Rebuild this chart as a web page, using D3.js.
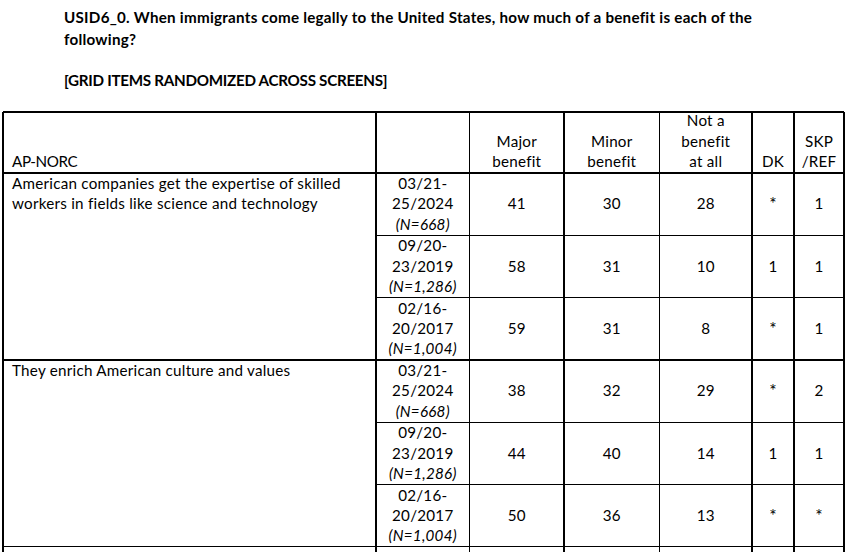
<!DOCTYPE html>
<html>
<head>
<meta charset="utf-8">
<script src="https://cdn.jsdelivr.net/npm/d3@7"></script>
<style>
  html, body { margin: 0; padding: 0; background: #fff; }
  svg { display: block; }
  text { font-family: Lato, "Open Sans", sans-serif; fill: #000; font-variant-ligatures: none; letter-spacing: 0.25px; }
</style>
</head>
<body>
<svg id="chart" width="848" height="552"></svg>
<script>
// ---- DATA ----
const titleLines = [
  "USID6_0. When immigrants come legally to the United States, how much of a benefit is each of the",
  "following?"
];
const note = "[GRID ITEMS RANDOMIZED ACROSS SCREENS]";
const source = "AP-NORC";
const columns = ["Major benefit", "Minor benefit", "Not a benefit at all", "DK", "SKP /REF"];
const columnHeaderLines = [["Major", "benefit"], ["Minor", "benefit"], ["Not a", "benefit", "at all"], ["DK"], ["SKP", "/REF"]];
const items = [
  ["American companies get the expertise of skilled", "workers in fields like science and technology"],
  ["They enrich American culture and values"]
];
const dateRanges = [["03/21-", "25/2024"], ["09/20-", "23/2019"], ["02/16-", "20/2017"]];
const sampleSizes = ["(N=668)", "(N=1,286)", "(N=1,004)"];
// values per item, per wave (2024, 2019, 2017)
const majorBenefit = [[41, 58, 59], [38, 44, 50]];
const minorBenefit = [[30, 31, 31], [32, 40, 36]];
const notABenefit  = [[28, 10, 8],  [29, 14, 13]];
const dontKnow     = [["*", 1, "*"], ["*", 1, "*"]];
const skipRefused  = [[1, 1, 1],    [2, 1, "*"]];

// ---- LAYOUT ----
const svg = d3.select("#chart");
const fontSize = 15.2;
const lineH = 20.3;

const colEdges = [3, 376, 469.5, 564, 659.5, 752, 794, 844];
const tableTop = 112, headerBottom = 173, rowH = 62.3;

const nWaves = dateRanges.length;
const rows = [];
items.forEach((it, i) => dateRanges.forEach((d, j) => rows.push({item: i, wave: j})));

const y = d3.scaleBand()
  .domain(d3.range(rows.length))
  .range([headerBottom, headerBottom + rows.length * rowH])
  .paddingInner(0).paddingOuter(0);

const valueCols = [majorBenefit, minorBenefit, notABenefit, dontKnow, skipRefused];

// title
const tg = svg.append("g");
tg.selectAll("text.title").data(titleLines).join("text")
  .attr("class", "title")
  .attr("x", 64)
  .attr("y", (d, i) => 23 + i * 21.5)
  .attr("font-size", fontSize)
  .attr("font-weight", "bold")
  .text(d => d);
tg.append("text")
  .attr("x", 64).attr("y", 86)
  .attr("font-size", fontSize)
  .attr("font-weight", "bold")
  .style("letter-spacing", "-0.28px")
  .text(note);

// grid lines
const grid = svg.append("g").attr("stroke", "#000").attr("stroke-width", 1.2).attr("shape-rendering", "crispEdges");
const bottomY = 552;
grid.selectAll("line.v").data(colEdges).join("line")
  .attr("x1", d => d).attr("x2", d => d)
  .attr("y1", tableTop).attr("y2", bottomY);
grid.append("line").attr("x1", colEdges[0]).attr("x2", colEdges[colEdges.length - 1]).attr("y1", tableTop).attr("y2", tableTop);
grid.append("line").attr("x1", colEdges[0]).attr("x2", colEdges[colEdges.length - 1]).attr("y1", headerBottom).attr("y2", headerBottom);
grid.selectAll("line.h").data(rows).join("line")
  .attr("x1", d => d.wave === nWaves - 1 ? colEdges[0] : colEdges[1])
  .attr("x2", colEdges[colEdges.length - 1])
  .attr("y1", (d, i) => y(i) + y.bandwidth())
  .attr("y2", (d, i) => y(i) + y.bandwidth());

// header text
const hb = headerBottom - 6;
svg.append("text").attr("x", 12).attr("y", hb).attr("font-size", fontSize)
  .style("letter-spacing", "-0.4px").text(source);
columnHeaderLines.forEach((lines, c) => {
  const cx = (colEdges[c + 2] + colEdges[c + 3]) / 2;
  svg.append("g").selectAll("text").data(lines).join("text")
    .attr("x", cx)
    .attr("y", (d, i) => hb - (lines.length - 1 - i) * lineH)
    .attr("text-anchor", "middle")
    .attr("font-size", fontSize)
    .text(d => d);
});

// body
const body = svg.append("g");
items.forEach((lines, i) => {
  const top = y(i * nWaves);
  body.append("g").selectAll("text").data(lines).join("text")
    .attr("x", 12)
    .attr("y", (d, k) => top + 16 + k * lineH)
    .attr("font-size", fontSize)
    .text(d => d);
});
rows.forEach((r, i) => {
  const top = y(i);
  const dcx = (colEdges[1] + colEdges[2]) / 2;
  const dl = dateRanges[r.wave];
  body.append("text").attr("x", dcx).attr("y", top + 16).attr("text-anchor", "middle").attr("font-size", fontSize).text(dl[0]);
  body.append("text").attr("x", dcx).attr("y", top + 16 + lineH).attr("text-anchor", "middle").attr("font-size", fontSize).text(dl[1]);
  body.append("text").attr("x", dcx).attr("y", top + 16 + 2 * lineH).attr("text-anchor", "middle").attr("font-size", fontSize).attr("font-style", "italic").text(sampleSizes[r.wave]);
  valueCols.forEach((arr, c) => {
    const cx = (colEdges[c + 2] + colEdges[c + 3]) / 2;
    const v = arr[r.item][r.wave];
    body.append("text")
      .attr("x", cx)
      .attr("y", top + 16 + lineH + (v === "*" ? 1 : 0))
      .attr("text-anchor", "middle")
      .attr("font-size", v === "*" ? fontSize * 1.15 : fontSize)
      .text(v);
  });
});
</script>
</body>
</html>
